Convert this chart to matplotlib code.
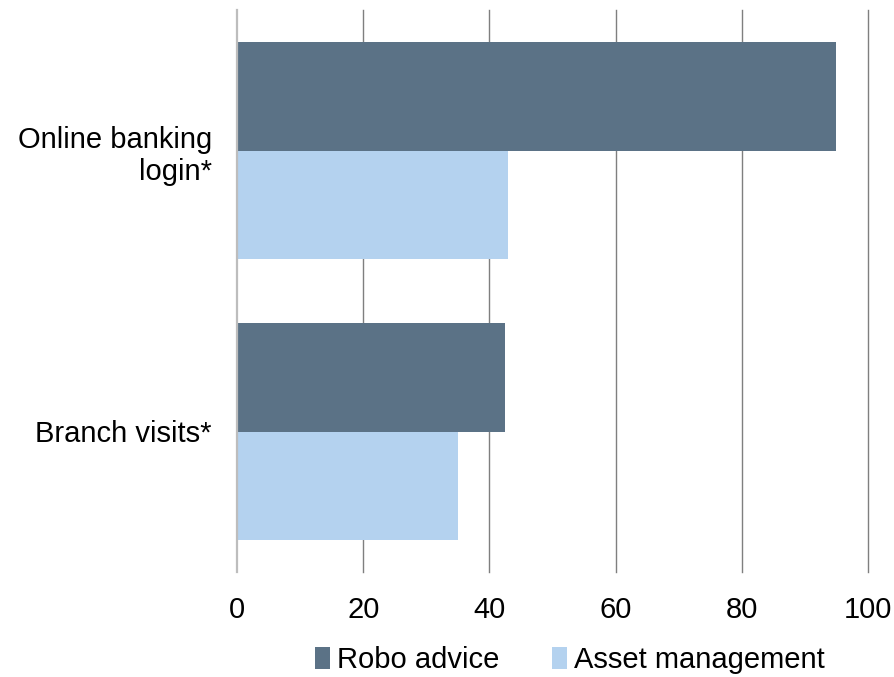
import matplotlib.pyplot as plt
import numpy as np

plt.rcParams['font.family'] = ['Liberation Sans', 'DejaVu Sans']

categories = ['Online banking\nlogin*', 'Branch visits*']
robo_advice = [95, 42.5]
asset_management = [43, 35]
ticks = [0, 20, 40, 60, 80, 100]

fig = plt.figure(figsize=(8.95, 6.77), dpi=100)
ax = fig.add_axes([237 / 895, 1 - 572 / 677, (868 - 237) / 895, (572 - 10) / 677])

pos = np.array([1, 0])
h = 0.385
ax.barh(pos + h / 2, robo_advice, height=h, color='#5B7286', label='Robo advice', zorder=2)
ax.barh(pos - h / 2, asset_management, height=h, color='#B4D2EF', label='Asset management', zorder=2)

# gridlines: light grey at zero, darker grey elsewhere
for t in ticks[1:]:
    ax.axvline(t, color='#7F7F7F', lw=1, zorder=1, clip_on=False)
ax.axvline(0, color='#BDBDBD', lw=1.6, zorder=3, clip_on=False)

ax.set_xlim(0, 100)
ax.set_ylim(-0.5, 1.5)
ax.set_xticks(ticks)
ax.set_yticks(pos)
ax.set_yticklabels(categories)
ax.tick_params(axis='both', length=0, labelsize=21)
ax.tick_params(axis='x', pad=17)
ax.tick_params(axis='y', pad=18)
for s in ax.spines.values():
    s.set_visible(False)

fig.legend(loc='center', bbox_to_anchor=(570 / 895, 1 - 660 / 677), ncol=2, frameon=False,
           fontsize=21, handlelength=0.5, handleheight=0.75, handletextpad=0.25,
           columnspacing=1.8)

fig.savefig('out.png', dpi=100)
